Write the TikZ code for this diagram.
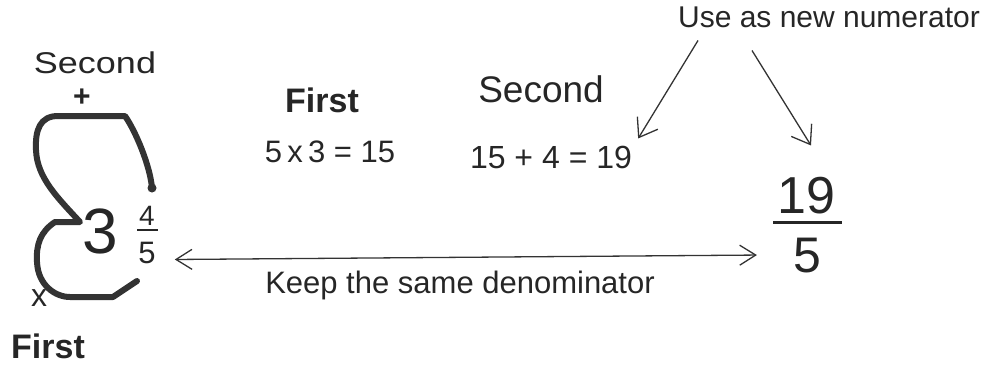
\documentclass[tikz,border=0pt]{standalone}
\usepackage{fontspec}
\setmainfont{Liberation Sans}
\usepackage{tikz}
\usetikzlibrary{arrows.meta,calc}

\begin{document}
\begin{tikzpicture}[
  x=1pt, y=-1pt,
  txt/.style={inner sep=0pt, anchor=base, text=black!85},
  arr/.style={-{Straight Barb[length=17pt,width=24pt]}, line width=1.3pt, draw=black!80},
  loopline/.style={line width=6pt, draw=black!80, line cap=round, line join=round},
  bar/.style={line width=2.4pt, draw=black!85}
]
\useasboundingbox (0,0) rectangle (987,370);

% mixed number on the left
\node[txt, font=\fontsize{30}{30}\selectfont, xscale=1.2, transform shape] (second) at (95,73) {Second};
\node[txt, font=\fontsize{30}{30}\selectfont\bfseries] (plus) at (82,106) {+};
\node[txt, font=\fontsize{64}{64}\selectfont] (three) at (100,253) {3};
\node[txt, font=\fontsize{28}{28}\selectfont] (num) at (147,225) {4};
\node[txt, font=\fontsize{31}{31}\selectfont] (den) at (147,263) {5};
\draw[bar] (137,230) -- (158,230);
\node[txt, font=\fontsize{32}{32}\selectfont] (cross) at (39,306) {x};
\node[txt, font=\fontsize{34}{34}\selectfont\bfseries] (first) at (48,358) {First};

% the loop round the 3
\draw[loopline] (152,188) .. controls (150,165) and (135,130) .. (125,116)
  -- (58,116) .. controls (40,116) and (35,130) .. (36,150)
  .. controls (37,178) and (58,198) .. (80,222) -- (55,222)
  .. controls (40,232) and (36,245) .. (37,262)
  .. controls (38,285) and (55,297) .. (70,297) -- (113,297) -- (137,281);
\fill[black!80] (152,188) circle (4.5);

% steps
\node[txt, font=\fontsize{34}{34}\selectfont\bfseries] (firststep) at (322,112) {First};
\node[txt, font=\fontsize{31}{31}\selectfont] (prod) at (330,162) {5\,x\,3 = 15};
\node[txt, font=\fontsize{37}{37}\selectfont] (secondstep) at (541,102) {Second};
\node[txt, font=\fontsize{32}{32}\selectfont] (sum) at (551,168) {15 + 4 = 19};

% improper fraction
\node[txt, font=\fontsize{30}{30}\selectfont] (usenum) at (829,27) {Use as new numerator};
\node[txt, font=\fontsize{52}{52}\selectfont] (bignum) at (806,213) {19};
\node[txt, font=\fontsize{50}{50}\selectfont] (bigden) at (807,272) {5};
\draw[line width=3pt, draw=black!85] (773,222) -- (842,222);

\draw[arr] ([shift={(-131pt,-13pt)}]usenum.south) -- ([shift={(6pt,7pt)}]sum.north east);
\draw[arr] ([shift={(-77pt,-23pt)}]usenum.south) -- ([shift={(5pt,31pt)}]bignum.north);

% denominator
\node[txt, font=\fontsize{31}{31}\selectfont] (keep) at (460,293) {Keep the same denominator};
\draw[arr, {Straight Barb[length=16pt,width=20pt]}-{Straight Barb[length=16pt,width=20pt]}]
  ([shift={(19pt,-7pt)}]den.east) -- ([xshift=-36pt]bigden.west);
\end{tikzpicture}
\end{document}
